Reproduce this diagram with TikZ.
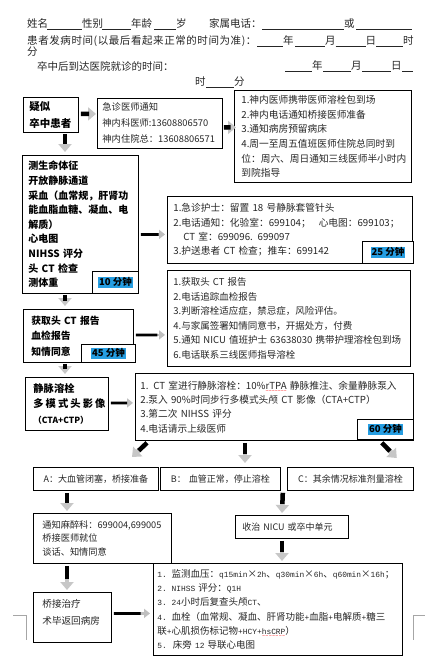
\documentclass[tikz,border=0pt]{standalone}
\usepackage{fontspec}
\setmainfont{Noto Sans CJK SC}
\newfontfamily\lm[Scale=0.83]{Liberation Mono}
\usetikzlibrary{arrows.meta,calc}
\definecolor{hl}{RGB}{38,158,226}
\newsavebox\wvbox
\newcommand\redwave[1]{\sbox\wvbox{#1}\rlap{\lower3.4pt\hbox to\wd\wvbox{\color{red}\fontsize{6}{6}\lm\xleaders\hbox{\char`\~}\hfil}}\usebox\wvbox}
\newcommand\seg[2]{\makebox[#1pt][l]{#2}}
\newcommand\bl[1]{\rule[-2pt]{#1pt}{0.5pt}}
\newcommand\hlt[1]{{\setlength{\fboxsep}{0.8pt}\colorbox{hl}{#1}}}
\newcommand\fs[2]{\fontsize{#1}{#2}\selectfont}
% thick short arrow
\newcommand\garrow[3]{%
  \coordinate (#1s) at #2;
  \coordinate (#1e) at #3;
  \draw[arrgray] (#1s) -- (#1e);
  \draw[arrblack] (#1s) -- ($(#1s)!0.55!(#1e)$);}
% thin long arrow
\newcommand\tarrow[3]{%
  \coordinate (#1s) at #2;
  \coordinate (#1e) at #3;
  \draw[tarrgray] (#1s) -- (#1e);
  \draw[tarrblack] (#1s) -- ($(#1s)!0.74!(#1e)$);}
\tikzset{
  box/.style={draw, line width=0.8pt, anchor=north west, inner ysep=0pt, align=left, text=black!85},
  tbox/.style={draw, line width=0.8pt, anchor=north west, fill=white, inner sep=0pt},
  hd/.style={anchor=west, inner sep=0pt, font=\fs{10.5}{12}, text=black!85},
  arrgray/.style={line width=4.5pt, black!22, -{Triangle[width=13pt,length=8pt]}},
  arrblack/.style={line width=4.5pt, black},
  tarrgray/.style={line width=2.8pt, black!25, -{Triangle[width=9pt,length=6pt]}},
  tarrblack/.style={line width=2.8pt, black},
}
\begin{document}
\begin{tikzpicture}[x=1pt,y=-1pt]
\fill[white] (0,0) rectangle (425,666);
\useasboundingbox (0,0) rectangle (425,666);

% header
\node[hd] (h1) at (27,24) {\seg{20}{姓名}\bl{35}\seg{20}{性别}\bl{29}\seg{23}{年龄}\bl{22}\seg{33}{岁}\seg{53}{家属电话：}\bl{82}\seg{12}{或}\bl{56}};
\node[hd] (h2) at (27,41) {\seg{230}{\addfontfeatures{LetterSpace=5.5}患者发病时间(以最后看起来正常的时间为准)：}\bl{26}\seg{12}{年}\bl{30}\seg{10.5}{月}\bl{30}\seg{10.5}{日}\bl{27}\seg{11}{时}};
\node[hd] (h3) at (27,52) {分};
\node[hd] (h4) at (37,66) {卒中后到达医院就诊的时间：};
\node[hd] (h5) at (285,66) {\bl{27}\seg{11}{年}\bl{28}\seg{11}{月}\bl{29}\seg{11}{日}\bl{11}};
\node[hd] (h6) at (195,82) {\seg{11}{时}\bl{28}\seg{11}{分}};

% boxes
\node[box, inner xsep=6pt, text width=43pt, minimum width=55pt, minimum height=35pt, font=\fs{10.5}{17}\bfseries, text=black] (b1) at (23,97) {疑似\\卒中患者};
\node[box, inner xsep=5pt, text width=115pt, minimum width=125pt, minimum height=50pt, font=\fs{9.3}{16}] (b2) at (97,98) {急诊医师通知\\神内科医师:13608806570\\神内住院总：13608806571};
\node[box, inner xsep=7pt, text width=163pt, minimum width=177pt, minimum height=92pt, font=\fs{9.7}{14.6}] (b3) at (234,90) {1.神内医师携带医师溶栓包到场\\2.神内电话通知桥接医师准备\\3.通知病房预留病床\\\mbox{4.周一至周五值班医师住院总同时到}\\\mbox{位：周六、周日通知三线医师半小时内}\\到院指导};
\node[box, inner xsep=6pt, text width=104pt, minimum width=116pt, minimum height=138pt, font=\fs{10}{14.6}\bfseries, text=black] (b4) at (22,155) {测生命体征\\开放静脉通道\\采血（血常规，肝肾功\\能血脂血糖、凝血、电\\解质）\\心电图\\NIHSS 评分\\头 CT 检查\\测体重};
\node[tbox, minimum width=46pt, minimum height=22pt] (t10) at (92,271) {\hlt{\fs{9.5}{11}\bfseries 10 分钟}};

\node[box, inner xsep=6pt, text width=233pt, minimum width=245pt, minimum height=67pt, font=\fs{9.7}{14.4}] (b5) at (167,196) {\mbox{1.急诊护士：留置 18 号静脉套管针头}\\\mbox{2.电话通知：化验室：699104；\hspace{8pt}心电图：699103；}\\\mbox{\hspace*{10pt}CT 室：699096. 699097}\\\mbox{3.护送患者 CT 检查；推车：699142}};
\node[tbox, minimum width=51pt, minimum height=22pt] (t25) at (362,241) {\hlt{\fs{9.5}{11}\bfseries 25 分钟}};

\node[box, inner xsep=6pt, text width=231pt, minimum width=243pt, minimum height=96pt, font=\fs{9.5}{14.5}] (b6) at (167,270) {\mbox{1.获取头 CT 报告}\\\mbox{2.电话追踪血检报告}\\\mbox{3.判断溶栓适应症，禁忌症，风险评估。}\\\mbox{4.与家属签署知情同意书，开据处方，付费}\\\mbox{5.通知 NICU 值班护士 63638030 携带护理溶栓包到场}\\\mbox{6.电话联系三线医师指导溶栓}};

\node[box, inner xsep=8pt, text width=94pt, minimum width=110pt, minimum height=53pt, font=\fs{9.8}{15.5}\bfseries, text=black] (b7) at (23,309) {获取头 CT 报告\\血检报告\\知情同意};
\node[tbox, minimum width=54pt, minimum height=18pt] (t45) at (81,344) {\hlt{\fs{9.5}{11}\bfseries 45 分钟}\hspace{6pt}};

\node[box, inner xsep=8pt, text width=67pt, minimum width=83pt, minimum height=53pt, font=\fs{10.3}{15.5}\bfseries, text=black] (b8) at (25,377) {静脉溶栓\\\makebox[72pt][l]{多\hfill 模\hfill 式\hfill 头\hfill 影\hfill 像}\\{\fs{8.5}{10}（CTA+CTP）}};
\node[box, inner xsep=5pt, text width=268pt, minimum width=278pt, minimum height=67pt, font=\fs{9.7}{14.4}] (b9) at (135,373) {\mbox{1. CT 室进行静脉溶栓：10\%\redwave{rTPA} 静脉推注、余量静脉泵入}\\\mbox{2.泵入 90\%时同步行多模式头颅 CT 影像（CTA+CTP）}\\\mbox{3.第二次 NIHSS 评分}\\\mbox{4.电话请示上级医师}};
\node[tbox, minimum width=56pt, minimum height=20pt] (t60) at (357,419) {\hlt{\fs{9.5}{11}\bfseries 60 分钟}\hspace{13pt}};

\node[box, align=center, inner xsep=2pt, text width=121pt, minimum width=125pt, minimum height=23pt, font=\fs{9}{11}] (bA) at (33,467) {\mbox{A：大血管闭塞，桥接准备}};
\node[box, align=center, inner xsep=2pt, text width=116pt, minimum width=120pt, minimum height=23pt, font=\fs{9}{11}] (bB) at (160,467) {\mbox{B：\ 血管正常，停止溶栓}};
\node[box, align=center, inner xsep=2pt, text width=122pt, minimum width=126pt, minimum height=23pt, font=\fs{9}{11}] (bC) at (287,467) {\mbox{C：其余情况标准剂量溶栓}};

\node[box, inner xsep=9pt, text width=120pt, minimum width=138pt, minimum height=50pt, font=\fs{9.2}{13.5}] (bA2) at (33,513) {\mbox{通知麻醉科：699004,699005}\\桥接医师就位\\谈话、知情同意};
\node[box, inner xsep=7pt, text width=99pt, minimum width=113pt, minimum height=23pt, font=\fs{9}{11}] (bN) at (235,515) {\mbox{收治 NICU 或卒中单元}};
\node[box, inner xsep=9pt, text width=60pt, minimum width=78pt, minimum height=50pt, font=\fs{9.6}{17}] (bA3) at (33,592) {桥接治疗\\术毕返回病房\\[-6pt]\mbox{}};
\node[box, inner xsep=4pt, text width=241pt, minimum width=249pt, minimum height=92pt, font=\fs{9.5}{14.2}] (bF) at (153,563) {\mbox{{\lm 1.} 监测血压：{\lm q15min}×{\lm 2h}、{\lm q30min}×{\lm 6h}、{\lm q60min}×{\lm 16h}；}\\\mbox{{\lm 2.} {\lm NIHSS} 评分：{\lm Q1H}}\\\mbox{{\lm 3.} {\lm 24}小时后复查头颅{\lm CT}、}\\\mbox{{\lm 4.} 血栓（血常规、凝血、肝肾功能{\lm +}血脂{\lm +}电解质{\lm +}糖三}\\\mbox{联{\lm +}心肌损伤标记物{\lm +HCY+}\redwave{\lm hsCRP}）}\\\mbox{{\lm 5.}\hspace{6pt}床旁 {\lm 12} 导联心电图}};

% arrows
\garrow{a12}{($(b1.east)+(2,-1)$)}{($(b2.west |- b1.east)+(-1,-1)$)}
\garrow{a23}{($(b2.east)+(1,4)$)}{($(b3.west |- b2.east)+(2,4)$)}
\garrow{a14}{($(b1.south west)+(42,1)$)}{($(b4.north west)+(43,-3)$)}
\tarrow{a45}{($(b4.east)+(2,10)$)}{($(b5.west)+(-2,4.5)$)}
\garrow{a47}{($(b4.south west)+(43,1)$)}{($(b7.north west)+(42,-3)$)}
\tarrow{a76}{($(b7.east)+(2,-1)$)}{($(b6.west |- b7.east)+(-2,-1)$)}
\garrow{a78}{($(b7.south west)+(42,1)$)}{($(b8.north west)+(40,-3)$)}
\tarrow{a89}{($(b8.east)+(2,-1)$)}{($(b9.west |- b8.east)+(-2,-1)$)}
\garrow{a9A}{($(b9.south west)+(12,2)$)}{($(bA.north west)+(99,-10)$)}
\garrow{a9B}{($(b9.south west)+(110,2)$)}{($(bB.north west)+(85,-4)$)}
\garrow{a9C}{($(b9.south east)+(-32,2)$)}{($(bC.north east)+(-17,-9)$)}
\garrow{aAA}{($(bA.south west)+(34,2)$)}{($(bA2.north west)+(34,-2)$)}
\garrow{aBN}{($(bB.south east)+(2,2)$)}{($(bN.north west)+(47,-2)$)}
\garrow{aNF}{($(bN.south west)+(47,2)$)}{($(bF.north west)+(129,-2)$)}
\garrow{aA3}{($(bA2.south west)+(34,2)$)}{($(bA3.north west)+(34,-2)$)}
\tarrow{aAF}{($(bA3.east)+(2,-4)$)}{($(bF.west |- bA3.east)+(-3,-4)$)}

% page corner marks
\draw[black!35, line width=0.6pt] (13,615) -- (26,615) -- (26,640);
\draw[black!35, line width=0.6pt] (425,615) -- (413,615) -- (413,640);
\end{tikzpicture}
\end{document}
